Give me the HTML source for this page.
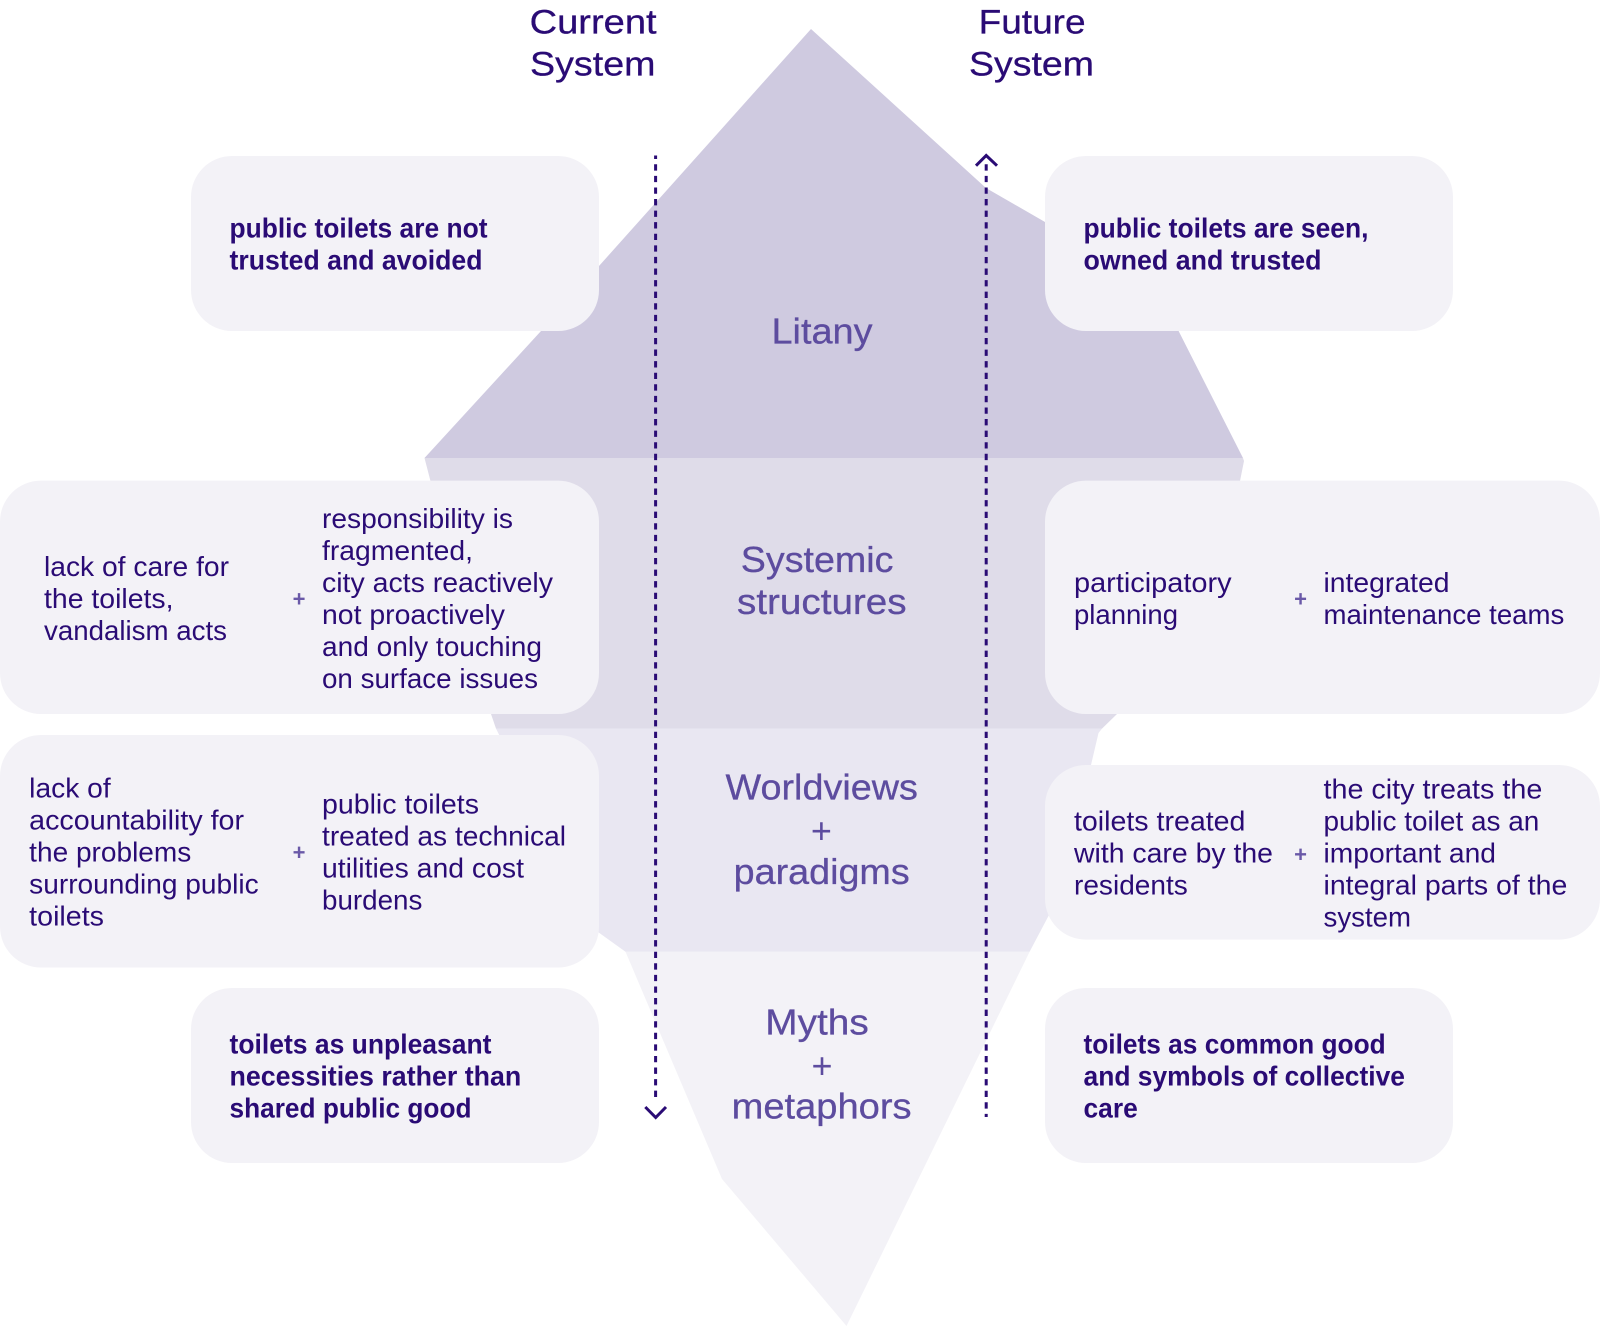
<!DOCTYPE html>
<html lang="en">
<head>
<meta charset="utf-8">
<title>Iceberg model</title>
<style>
html,body{margin:0;padding:0;background:#fff;width:1600px;height:1326px;overflow:hidden}
svg{display:block}
text{font-family:"Liberation Sans",Arial,sans-serif}
.t{font-size:27.5px;fill:#2a0b75}
.b{font-size:27.5px;font-weight:bold;fill:#2a0b75}
.h{font-size:34.5px;fill:#2a0b75;stroke:#2a0b75;stroke-width:.3px}
.c{font-size:36px;fill:#5d4c9f;stroke:#5d4c9f;stroke-width:.3px}
.p{font-size:22px;fill:#6a59a8;text-anchor:middle;font-weight:bold}
.bp{font-size:36px;fill:#5d4c9f;text-anchor:middle}
</style>
</head>
<body>
<svg xmlns="http://www.w3.org/2000/svg" width="1600" height="1326" viewBox="0 0 1600 1326">
<rect width="1600" height="1326" fill="#fff"/>
<!-- iceberg bands -->
<polygon points="625.5,951.7 1029.6,951.7 846.5,1326 722,1179" fill="#f3f2f7"/>
<polygon points="496,728.6 1102,728.6 1098.5,733 1091,765 1049,915 1029.6,951.7 625.5,951.7 598.5,932.4" fill="#e9e7f2"/>
<polygon points="424.5,458 1243,458 1244,461 1240,481 1117,714 1102,728.6 496,728.6 491,714" fill="#dfdce9"/>
<polygon points="811,29 986,188 1045,222 1178.6,331 1243,458 424.5,458 541,331 599,266" fill="#cfcae0"/>
<!-- boxes -->
<g fill="#f3f2f7">
<rect x="191" y="156" width="408" height="175" rx="41" ry="41"/>
<rect x="1045" y="156" width="408" height="175" rx="41" ry="41"/>
<rect x="0" y="480.6" width="599" height="233.4" rx="41" ry="41"/>
<rect x="0" y="735" width="599" height="232.5" rx="41" ry="41"/>
<rect x="1045" y="480.6" width="555" height="233.4" rx="41" ry="41"/>
<rect x="1045" y="765" width="555" height="174.6" rx="41" ry="41"/>
<rect x="191" y="988" width="408" height="175" rx="41" ry="41"/>
<rect x="1045" y="988" width="408" height="175" rx="41" ry="41"/>
</g>
<!-- dashed arrows -->
<g fill="none" stroke="#2a0b75" stroke-width="3">
<line x1="655.6" y1="155.5" x2="655.6" y2="1098" stroke-dasharray="6.3 5.28" stroke-dashoffset="2.8"/>
<polyline points="645.3,1107 655.7,1117.5 666,1107"/>
<line x1="986.2" y1="164.3" x2="986.2" y2="1117" stroke-dasharray="6.3 5.28"/>
<polyline points="976,165.7 986.2,155.5 997,165.7"/>
</g>
<!-- headers -->
<text class="h" x="529.6" y="33.3" textLength="127" lengthAdjust="spacingAndGlyphs">Current</text>
<text class="h" x="530" y="75.3" textLength="125.5" lengthAdjust="spacingAndGlyphs">System</text>
<text class="h" x="978.6" y="33.3" textLength="107" lengthAdjust="spacingAndGlyphs">Future</text>
<text class="h" x="969" y="75.3" textLength="125" lengthAdjust="spacingAndGlyphs">System</text>
<!-- center labels -->
<text class="c" x="771.5" y="343.7" textLength="101" lengthAdjust="spacingAndGlyphs">Litany</text>
<text class="c" x="740.8" y="572" textLength="152.6" lengthAdjust="spacingAndGlyphs">Systemic</text>
<text class="c" x="737" y="614" textLength="169.6" lengthAdjust="spacingAndGlyphs">structures</text>
<text class="c" x="725.5" y="799.5" textLength="192.4" lengthAdjust="spacingAndGlyphs">Worldviews</text>
<text class="bp" x="821.4" y="843">+</text>
<text class="c" x="733.7" y="883.8" textLength="176" lengthAdjust="spacingAndGlyphs">paradigms</text>
<text class="c" x="765.3" y="1034.7" textLength="103.5" lengthAdjust="spacingAndGlyphs">Myths</text>
<text class="bp" x="822" y="1078">+</text>
<text class="c" x="731.6" y="1118.7" textLength="180" lengthAdjust="spacingAndGlyphs">metaphors</text>
<!-- top boxes -->
<text class="b" x="229.5" y="237.5" textLength="258" lengthAdjust="spacingAndGlyphs">public toilets are not</text>
<text class="b" x="229.5" y="269.5" textLength="253" lengthAdjust="spacingAndGlyphs">trusted and avoided</text>
<text class="b" x="1083.5" y="237.5" textLength="285" lengthAdjust="spacingAndGlyphs">public toilets are seen,</text>
<text class="b" x="1083.5" y="269.5" textLength="238" lengthAdjust="spacingAndGlyphs">owned and trusted</text>
<!-- left mid 1 -->
<text class="t" x="44" y="576" textLength="185" lengthAdjust="spacingAndGlyphs">lack of care for</text>
<text class="t" x="44" y="608" textLength="129.5" lengthAdjust="spacingAndGlyphs">the toilets,</text>
<text class="t" x="44" y="640" textLength="183" lengthAdjust="spacingAndGlyphs">vandalism acts</text>
<text class="p" x="299" y="606.5">+</text>
<text class="t" x="322" y="528" textLength="191" lengthAdjust="spacingAndGlyphs">responsibility is</text>
<text class="t" x="322" y="560" textLength="151" lengthAdjust="spacingAndGlyphs">fragmented,</text>
<text class="t" x="322" y="592" textLength="231" lengthAdjust="spacingAndGlyphs">city acts reactively</text>
<text class="t" x="322" y="624" textLength="183" lengthAdjust="spacingAndGlyphs">not proactively</text>
<text class="t" x="322" y="656" textLength="220" lengthAdjust="spacingAndGlyphs">and only touching</text>
<text class="t" x="322" y="688" textLength="216" lengthAdjust="spacingAndGlyphs">on surface issues</text>
<!-- left mid 2 -->
<text class="t" x="29.2" y="797.5" textLength="81.5" lengthAdjust="spacingAndGlyphs">lack of</text>
<text class="t" x="29.2" y="829.5" textLength="214.8" lengthAdjust="spacingAndGlyphs">accountability for</text>
<text class="t" x="29.2" y="861.5" textLength="162.1" lengthAdjust="spacingAndGlyphs">the problems</text>
<text class="t" x="29.2" y="893.5" textLength="229.5" lengthAdjust="spacingAndGlyphs">surrounding public</text>
<text class="t" x="29.2" y="925.5" textLength="74.8" lengthAdjust="spacingAndGlyphs">toilets</text>
<text class="p" x="299" y="860">+</text>
<text class="t" x="322" y="813.5" textLength="157" lengthAdjust="spacingAndGlyphs">public toilets</text>
<text class="t" x="322" y="845.5" textLength="244" lengthAdjust="spacingAndGlyphs">treated as technical</text>
<text class="t" x="322" y="877.5" textLength="202" lengthAdjust="spacingAndGlyphs">utilities and cost</text>
<text class="t" x="322" y="909.5" textLength="100.4" lengthAdjust="spacingAndGlyphs">burdens</text>
<!-- right mid 1 -->
<text class="t" x="1074" y="592" textLength="157.6" lengthAdjust="spacingAndGlyphs">participatory</text>
<text class="t" x="1074" y="624" textLength="104" lengthAdjust="spacingAndGlyphs">planning</text>
<text class="p" x="1300.5" y="606.5">+</text>
<text class="t" x="1323.5" y="592" textLength="126" lengthAdjust="spacingAndGlyphs">integrated</text>
<text class="t" x="1323.5" y="624" textLength="240.8" lengthAdjust="spacingAndGlyphs">maintenance teams</text>
<!-- right mid 2 -->
<text class="t" x="1074" y="830.5" textLength="171.4" lengthAdjust="spacingAndGlyphs">toilets treated</text>
<text class="t" x="1074" y="862.5" textLength="199" lengthAdjust="spacingAndGlyphs">with care by the</text>
<text class="t" x="1074" y="894.5" textLength="113.8" lengthAdjust="spacingAndGlyphs">residents</text>
<text class="p" x="1300.5" y="862">+</text>
<text class="t" x="1323.5" y="798.5" textLength="218.8" lengthAdjust="spacingAndGlyphs">the city treats the</text>
<text class="t" x="1323.5" y="830.5" textLength="215.8" lengthAdjust="spacingAndGlyphs">public toilet as an</text>
<text class="t" x="1323.5" y="862.5" textLength="172.5" lengthAdjust="spacingAndGlyphs">important and</text>
<text class="t" x="1323.5" y="894.5" textLength="243.8" lengthAdjust="spacingAndGlyphs">integral parts of the</text>
<text class="t" x="1323.5" y="926.5" textLength="87.5" lengthAdjust="spacingAndGlyphs">system</text>
<!-- bottom boxes -->
<text class="b" x="229.5" y="1053.5" textLength="262" lengthAdjust="spacingAndGlyphs">toilets as unpleasant</text>
<text class="b" x="229.5" y="1085.5" textLength="291.8" lengthAdjust="spacingAndGlyphs">necessities rather than</text>
<text class="b" x="229.5" y="1117.5" textLength="242" lengthAdjust="spacingAndGlyphs">shared public good</text>
<text class="b" x="1083.5" y="1053.5" textLength="302.2" lengthAdjust="spacingAndGlyphs">toilets as common good</text>
<text class="b" x="1083.5" y="1085.5" textLength="321.5" lengthAdjust="spacingAndGlyphs">and symbols of collective</text>
<text class="b" x="1083.5" y="1117.5" textLength="54.3" lengthAdjust="spacingAndGlyphs">care</text>
</svg>
</body>
</html>
